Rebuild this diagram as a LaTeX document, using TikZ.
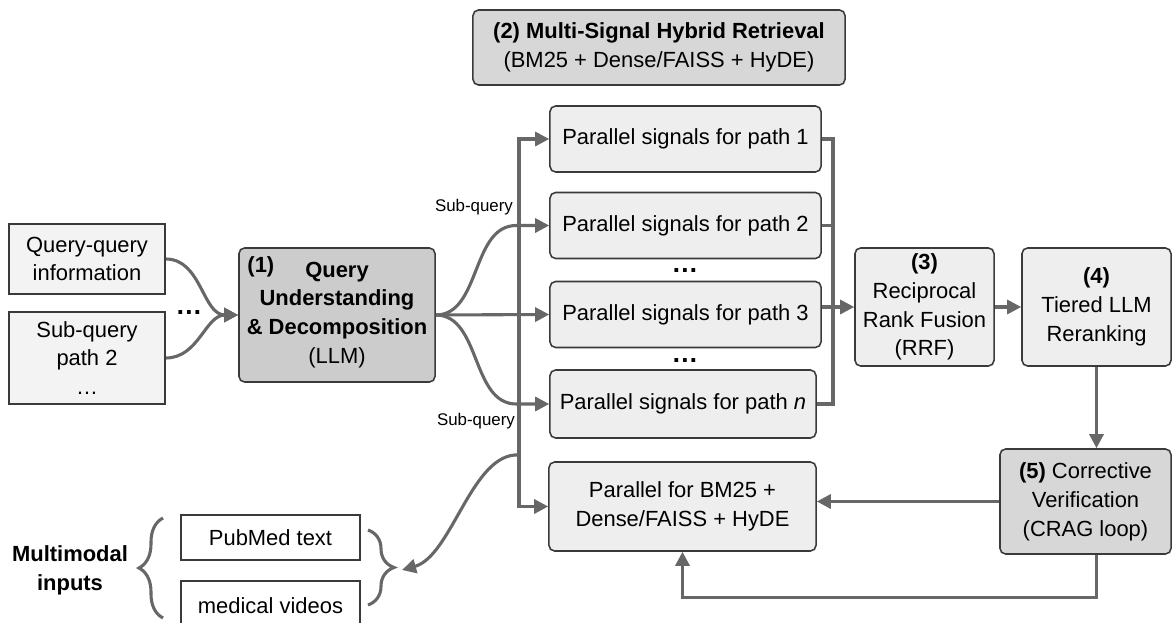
\documentclass[tikz,border=0pt]{standalone}
\usepackage{fontspec}
\setmainfont{Liberation Sans}
\usetikzlibrary{arrows.meta,calc,decorations.pathreplacing}

\definecolor{boxline}{HTML}{3A3A3A}
\definecolor{flowgray}{HTML}{676767}
\definecolor{lightfill}{HTML}{EEEEEE}
\definecolor{qfill}{HTML}{F3F3F3}
\definecolor{midfill}{HTML}{D7D7D7}
\definecolor{darkfill}{HTML}{CCCCCC}
\newcommand{\mainsize}{\fontsize{15.6}{20.5}\selectfont}
\newcommand{\dotsize}{\fontsize{19}{22}\selectfont}

\begin{document}
\begin{tikzpicture}[x=0.025cm, y=-0.025cm,
  every node/.style={font=\mainsize, text=black},
  box/.style={draw=boxline, line width=1.1pt, rounded corners=4pt, fill=lightfill, align=center, inner sep=2pt},
  plainbox/.style={draw=boxline, line width=1.1pt, fill=#1, align=center, inner sep=2pt},
  flow/.style={draw=flowgray, line width=2.2pt, -{Triangle[length=10pt,width=10pt]}},
  wire/.style={draw=flowgray, line width=2.2pt},
  curly/.style={draw=flowgray, line width=2.2pt, decorate, decoration={brace, amplitude=#1}},
  smalltext/.style={font=\fontsize{12}{14}\selectfont},
  dotmark/.style={font=\bfseries\dotsize}]

% frame
\useasboundingbox (0,0) rectangle (1173,623);
\clip (0,0) rectangle (1173,623);

% retrieval title
\node[box, fill=midfill, minimum width=9.3cm, minimum height=1.875cm] (hyb) at (659,47.5) {\textbf{(2) Multi-Signal Hybrid Retrieval}\\(BM25 + Dense/FAISS + HyDE)};

% inputs
\node[plainbox=qfill, minimum width=3.9cm, minimum height=1.75cm] (qq) at (87,259) {Query-query\\information};
\node[plainbox=qfill, minimum width=3.9cm, minimum height=2.3cm] (sq) at (87,358) {Sub-query\\path 2\\\dots};
\node[dotmark] (indots) at (189,313) {\dots};

% decomposition
\node[box, fill=darkfill, minimum width=4.9cm, minimum height=3.35cm] (qud) at (337,315) {\textbf{Query}\\\textbf{Understanding}\\\textbf{\& Decomposition}\\(LLM)};
\node[anchor=north west, inner sep=0pt, font=\bfseries\mainsize] (qudnum) at ([shift={(9,9)}]qud.north west) {(1)};

% parallel paths
\node[box, minimum width=6.775cm, minimum height=1.65cm] (p1) at (685.5,139) {Parallel signals for path 1};
\node[box, minimum width=6.775cm, minimum height=1.65cm] (p2) at (685.5,225.5) {Parallel signals for path 2};
\node[dotmark] (pdotsa) at (685,271) {\dots};
\node[box, minimum width=6.775cm, minimum height=1.65cm] (p3) at (685.5,314.5) {Parallel signals for path 3};
\node[dotmark] (pdotsb) at (685,361) {\dots};
\node[box, minimum width=6.65cm, minimum height=1.7cm] (pn) at (683,404) {Parallel signals for path \textit{n}};
\node[box, minimum width=6.675cm, minimum height=2.225cm] (bm) at (682.5,506.5) {Parallel for BM25 +\\Dense/FAISS + HyDE};

% fusion and ranking
\node[box, minimum width=3.475cm, minimum height=2.95cm] (rrf) at (924.5,307) {\textbf{(3)}\\Reciprocal\\Rank Fusion\\(RRF)};
\node[box, minimum width=3.725cm, minimum height=2.95cm] (rer) at (1096.5,307) {\textbf{(4)}\\Tiered LLM\\Reranking};
\node[box, fill=midfill, minimum width=4.275cm, minimum height=2.625cm] (crag) at (1085.5,501.5) {\textbf{(5)} Corrective\\Verification\\(CRAG loop)};

% multimodal
\node[font=\bfseries\mainsize, align=center] (mm) at (70,570) {Multimodal\\inputs};
\node[plainbox=white, minimum width=4.475cm, minimum height=1.125cm] (pub) at (270.5,537.5) {PubMed text};
\node[plainbox=white, minimum width=4.475cm, minimum height=1.225cm] (vid) at (270.5,605.5) {medical videos};
\draw[curly=0.6cm] (163,618) -- (163,518);
\draw[curly=0.65cm] (368,530) -- (368,605);
\coordinate (mmtip) at (402,570);

% labels
\node[smalltext] (sqa) at (474,207) {Sub-query};
\node[smalltext] (sqb) at (476,421) {Sub-query};

% into (1)
\draw[flow] (qq.east) to[out=0,in=180] (qud.west);
\draw[flow] (sq.east) to[out=0,in=180] (qud.west);

% fan out
\draw[flow] (qud.east) -- (p3.west);
\draw[flow] (qud.east) .. controls +(45,0) and +(-45,0) .. ($(p2.west)+(-33,0)$) -- (p2.west);
\draw[flow] (qud.east) .. controls +(45,0) and +(-45,0) .. ($(pn.west)+(-33,0)$) -- (pn.west);

% bus
\coordinate (bus) at (519,0);
\coordinate (busmm) at (519,455);
\draw[flow] (bus |- bm.west) |- (p1.west);
\draw[flow] (bus |- p1.west) |- (bm.west);
\draw[flow] (busmm) .. controls (472,452) and (452,556) .. (mmtip);

% collector
\coordinate (col) at (833,0);
\draw[wire] (p1.east) -| (col |- pn.east) -- (pn.east);
\draw[wire] (p2.east) -- (col |- p2.east);
\draw[flow] (p3.east |- rrf.west) -- (rrf.west);

% ranking chain
\draw[flow] (rrf.east) -- (rer.west);
\draw[flow] (rer.south) -- (rer.south |- crag.north);
\draw[flow] (crag.west) -- (crag.west -| bm.east);
\draw[flow] (rer.south |- crag.south) -- ++(0,43) -| (bm.south);

\end{tikzpicture}
\end{document}
